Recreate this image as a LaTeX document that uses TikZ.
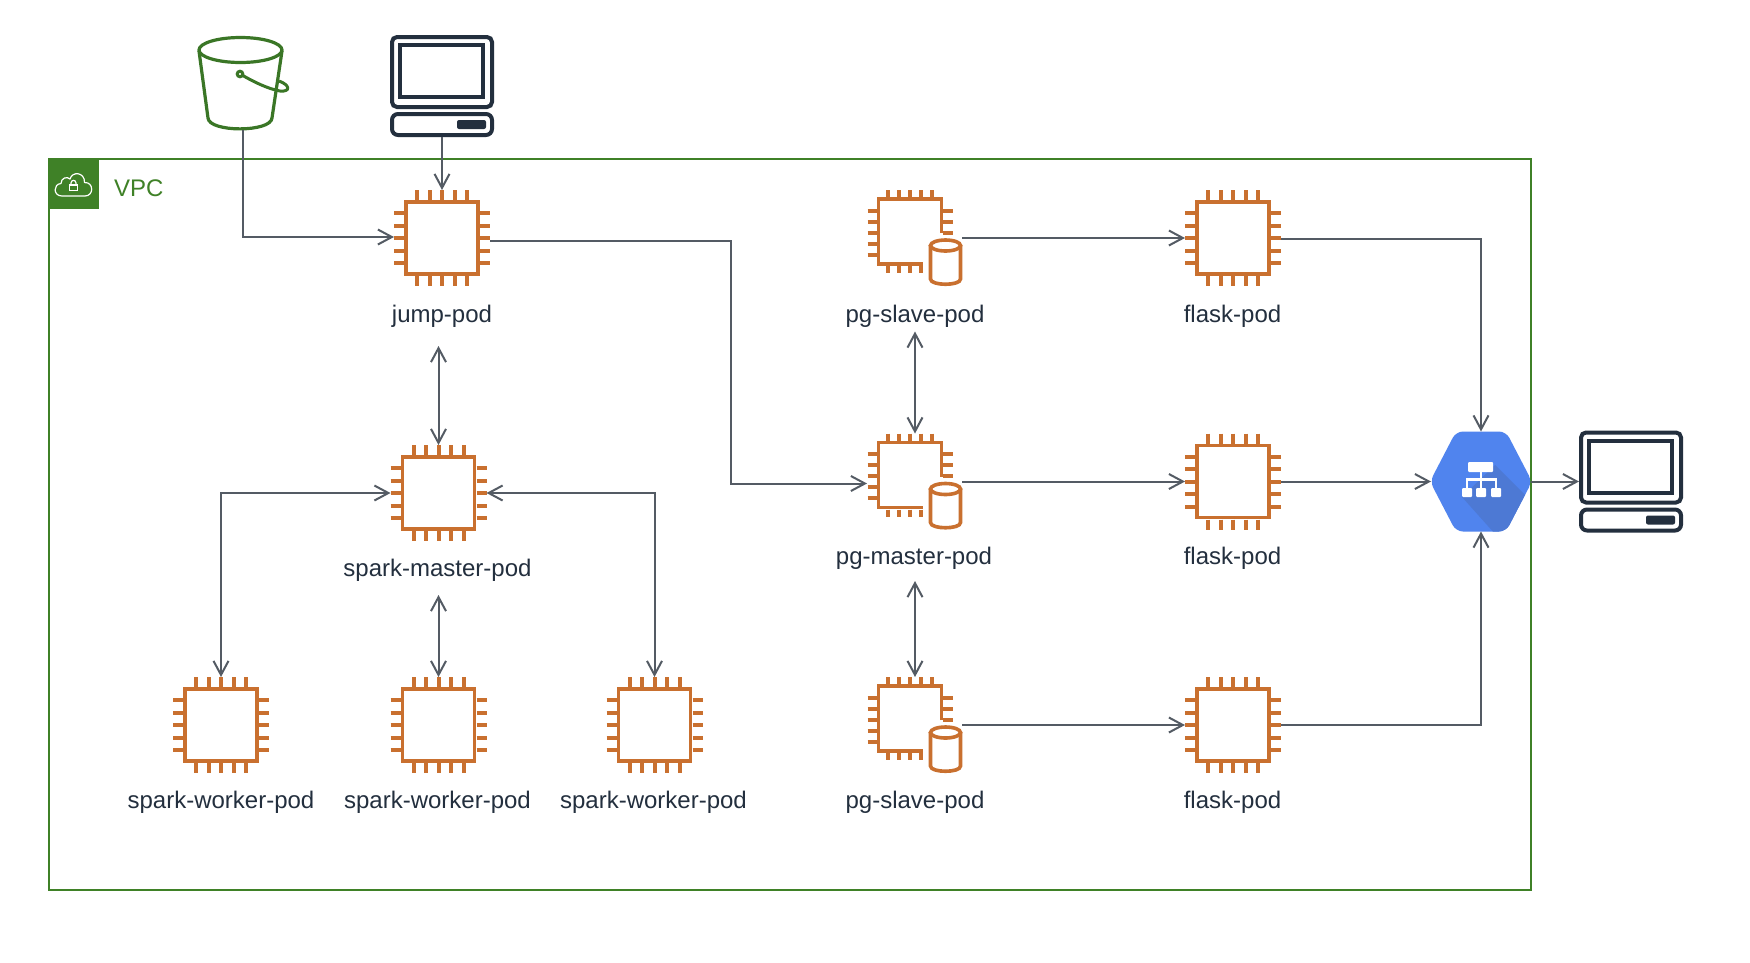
\documentclass[tikz,border=0pt]{standalone}
\usepackage{fontspec}
\setmainfont{Liberation Sans}
\usetikzlibrary{arrows.meta}
\definecolor{linec}{HTML}{545B64}
\definecolor{inkc}{HTML}{232F3E}
\definecolor{vpcc}{HTML}{3F8127}
\definecolor{bucketc}{HTML}{3A7626}
\definecolor{orangec}{HTML}{C9702F}
\definecolor{hexc}{HTML}{5084EE}
\definecolor{hexd}{HTML}{4D79D4}
\tikzset{
  x=1pt,y=-1pt,
  iconbox/.style={inner sep=0pt,outer sep=0pt,minimum width=96pt,minimum height=96pt},
  podlabel/.style={inner sep=0pt,text=inkc,font=\fontsize{24}{28}\selectfont},
  conn/.style={draw=linec,line width=2pt,-{Straight Barb[length=14pt,width=15pt]}},
  biconn/.style={draw=linec,line width=2pt,{Straight Barb[length=14pt,width=15pt]}-{Straight Barb[length=14pt,width=15pt]}},
  chipline/.style={draw=orangec,line width=3.8pt},
  pinline/.style={draw=orangec,line width=4pt},
  pics/chip/.style={code={
    \draw[chipline] (-36,-36) rectangle (36,36);
    \foreach \p in {-25,-12.5,0,12.5,25}{
      \draw[pinline] (\p,-48) -- (\p,-38);
      \draw[pinline] (\p,38) -- (\p,48);
      \draw[pinline] (-48,\p) -- (-38,\p);
      \draw[pinline] (38,\p) -- (48,\p);
    }
  }},
  pics/dbchip/.style={code={
    \draw[chipline] (26.5,-5) -- (26.5,-39) -- (-36.5,-39) -- (-36.5,26) -- (7.5,26);
    \foreach \p in {-27.5,-16.5,-5.5,5.5,16.5}{
      \draw[pinline] (\p,-48) -- (\p,-40);
      \draw[pinline] (-47.5,\p+0) -- (-38,\p);
    }
    \foreach \p in {-27.5,-16.5,-5.5,5.5}{\draw[pinline] (\p,28) -- (\p,35);}
    \foreach \p in {-27.5,-16.5,-5.5}{\draw[pinline] (28,\p) -- (37.5,\p);}
    \draw[chipline,line width=3.6pt] (15.5,7) -- (15.5,41) .. controls (15.5,48) and (45.5,48) .. (45.5,41) -- (45.5,7);
    \draw[chipline,line width=3.6pt] (30.5,7.5) ellipse [x radius=15,y radius=5.5];
  }},
  pics/computer/.style={code={
    \draw[inkc,line width=4pt,rounded corners=5pt] (-50,-49) rectangle (50,21);
    \draw[inkc,line width=4pt] (-42,-41) rectangle (41,11);
    \draw[inkc,line width=4pt,rounded corners=6pt] (-50,28) rectangle (50,49);
    \fill[inkc,rounded corners=2pt] (15,34) rectangle (44,43);
  }}
}
\begin{document}
\begin{tikzpicture}
\useasboundingbox (0,0) rectangle (1750,962);
\fill[white] (0,0) rectangle (1750,962);

% VPC group
\node[inner sep=0pt,outer sep=0pt,draw=vpcc,line width=2pt,minimum width=1482pt,minimum height=731pt] (vpc) at (790,524.5) {};
\fill[vpcc] (49,159) rectangle (99,209);
\draw[white,line width=1.2pt,line join=round]
  (62,196) .. controls (53,196) and (53,184) .. (61,183.5)
  .. controls (61,178) and (67,176) .. (70,179)
  .. controls (72,171) and (85,172) .. (84.5,182.5)
  .. controls (94,182) and (94,196) .. (85,196) -- cycle;
\draw[white,line width=1.2pt] (69.5,185) rectangle (77.5,190.5);
\draw[white,line width=1.2pt] (71,185) -- (71,183) .. controls (71,179.5) and (76,179.5) .. (76,183) -- (76,185);
\node[anchor=base west,inner sep=0pt,text=vpcc,font=\fontsize{24}{28}\selectfont] (vpctitle) at (114,196) {VPC};

% Bucket
\node[inner sep=0pt,outer sep=0pt,minimum width=89pt,minimum height=96pt] (bucket) at (243,82) {};
\draw[bucketc,line width=3.2pt,line join=round]
  (199,51) -- (208,118) .. controls (209,132.5) and (271,132.5) .. (272,118) -- (282,51);
\draw[bucketc,line width=3.2pt] (240.5,50) ellipse [x radius=41.5,y radius=12.5];
\draw[bucketc,line width=3pt] (240,74) circle [radius=2.8];
\draw[bucketc,line width=3pt,line join=round]
  (242,75) .. controls (252,81) and (268,89) .. (280,91)
  .. controls (291,92) and (290,85) .. (279,81);

% Top computer
\node[inner sep=0pt,outer sep=0pt,minimum width=104pt,minimum height=102pt] (comptop) at (442,86) {};
\pic at (442,86) {computer};

% Chips
\node[iconbox] (jump) at (442,238) {}; \pic at (442,238) {chip};
\node[iconbox] (master) at (438.5,493) {}; \pic at (438.5,493) {chip};
\node[iconbox] (workerA) at (221,725) {}; \pic at (221,725) {chip};
\node[iconbox] (workerB) at (438.5,725) {}; \pic at (438.5,725) {chip};
\node[iconbox] (workerC) at (654.5,725) {}; \pic at (654.5,725) {chip};
\node[iconbox] (flaskA) at (1233,238) {}; \pic at (1233,238) {chip};
\node[iconbox] (flaskB) at (1233,481.5) {}; \pic at (1233,481.5) {chip};
\node[iconbox] (flaskC) at (1233,725) {}; \pic at (1233,725) {chip};
\node[iconbox] (pgA) at (915,238) {}; \pic at (915,238) {dbchip};
\node[iconbox] (pgB) at (915,481.5) {}; \pic at (915,481.5) {dbchip};
\node[iconbox] (pgC) at (915,725) {}; \pic at (915,725) {dbchip};

% Load balancer
\node[inner sep=0pt,outer sep=0pt,minimum width=100pt,minimum height=100pt] (lb) at (1481,481.5) {};
\begin{scope}
\clip[rounded corners=7pt] (1430,481.5) -- (1456,431.5) -- (1506,431.5) -- (1532,481.5) -- (1506,531.5) -- (1456,531.5) -- cycle;
\fill[hexc] (1425,425) rectangle (1535,535);
\fill[hexd] (1462,497) -- (1496,535) -- (1535,535) -- (1535,505) -- (1495,465) -- cycle;
\end{scope}
\fill[white,rounded corners=1pt] (1468,462) rectangle (1493,472);
\fill[white,rounded corners=1pt] (1462,488) rectangle (1472,497);
\fill[white,rounded corners=1pt] (1476,488) rectangle (1486,497);
\fill[white,rounded corners=1pt] (1491,488) rectangle (1501,497);
\draw[white,line width=2.6pt] (1481,472) -- (1481,488) (1467,488) -- (1467,479.5) -- (1496,479.5) -- (1496,488);

% Right computer
\node[inner sep=0pt,outer sep=0pt,minimum width=104pt,minimum height=102pt] (compright) at (1631,481.5) {};
\pic at (1631,481.5) {computer};

% Labels
\node[podlabel] (ljump) at (442,316) {jump-pod};
\node[podlabel] (lmaster) at (437.5,570) {spark-master-pod};
\node[podlabel] (lworkerA) at (221,802.5) {spark-worker-pod};
\node[podlabel] (lworkerB) at (437.5,802.5) {spark-worker-pod};
\node[podlabel] (lworkerC) at (653.5,802.5) {spark-worker-pod};
\node[podlabel] (lpgA) at (915,316) {pg-slave-pod};
\node[podlabel] (lpgB) at (914,558) {pg-master-pod};
\node[podlabel] (lpgC) at (915,802.5) {pg-slave-pod};
\node[podlabel] (lflaskA) at (1232.5,316) {flask-pod};
\node[podlabel] (lflaskB) at (1232.5,558) {flask-pod};
\node[podlabel] (lflaskC) at (1232.5,802.5) {flask-pod};

% Free ends below labels
\coordinate (belowjump) at (438.5,346);
\coordinate (belowmaster) at (438.5,595);
\coordinate (belowpgA) at (915,331.5);
\coordinate (belowpgB) at (915,581);
\coordinate (pgAout) at (962,238);
\coordinate (pgBout) at (962,481.5);
\coordinate (pgCout) at (962,725);

% Connectors
\draw[conn] (bucket.south) |- ([yshift=1pt]jump.west);
\draw[conn] (comptop.south) -- (jump.north);
\draw[conn] ([yshift=-3pt]jump.east) -- (731,241) |- ([yshift=-2pt]pgB.west);
\draw[biconn] (belowjump) -- (master.north);
\draw[biconn] (belowmaster) -- (workerB.north);
\draw[biconn] (master.west) -| (workerA.north);
\draw[biconn] (master.east) -| (workerC.north);
\draw[biconn] (belowpgA) -- (pgB.north);
\draw[biconn] (belowpgB) -- (pgC.north);
\draw[conn] (pgAout) -- (flaskA.west);
\draw[conn] (pgBout) -- (flaskB.west);
\draw[conn] (pgCout) -- (flaskC.west);
\draw[conn] ([yshift=-1pt]flaskA.east) -| (lb.north);
\draw[conn] (flaskB.east) -- (lb.west);
\draw[conn] (flaskC.east) -| (lb.south);
\draw[conn] (lb.east) -- (compright.west);
\end{tikzpicture}
\end{document}
